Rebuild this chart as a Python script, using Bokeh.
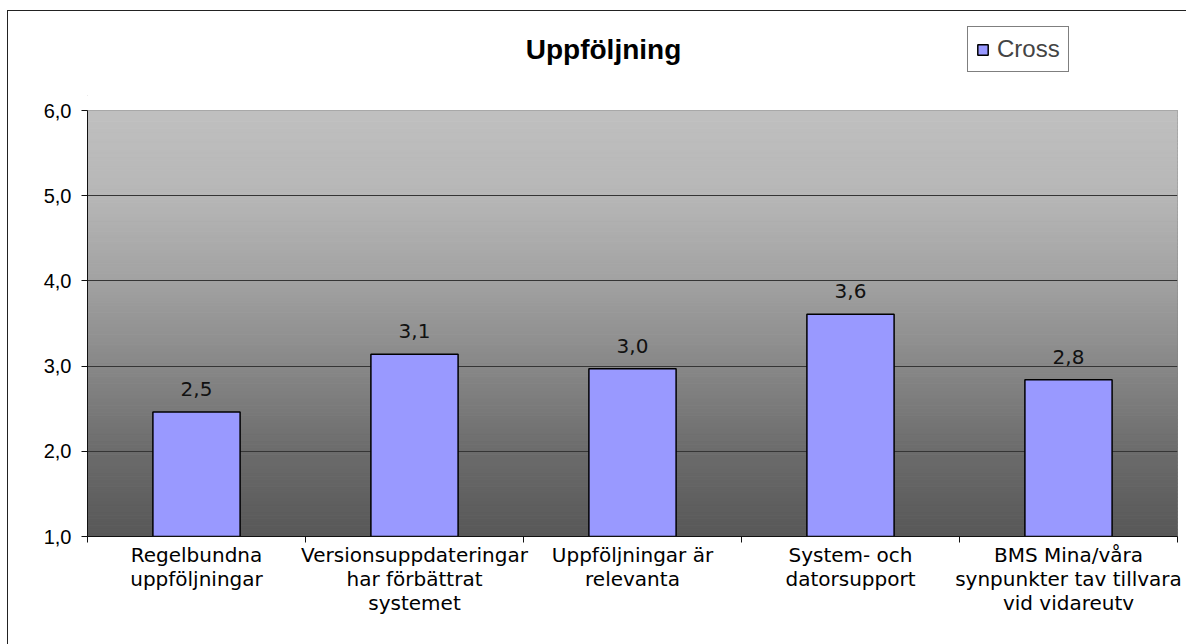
import numpy as np
from bokeh.plotting import figure
from bokeh.layouts import column
from bokeh.models import Range1d, FixedTicker, ColumnDataSource, Legend, LegendItem, Label
from bokeh.core.properties import value
from bokeh.embed import file_html
from bokeh.resources import INLINE

# ---- data ----
categories = [
    "Regelbundna\nuppföljningar",
    "Versionsuppdateringar\nhar förbättrat\nsystemet",
    "Uppföljningar är\nrelevanta",
    "System- och\ndatorsupport",
    "BMS Mina/våra\nsynpunkter tav tillvara\nvid vidareutv",
]
values = [2.46, 3.14, 2.97, 3.61, 2.84]
series_name = "Cross"
title_text = "Uppföljning"
y_ticks = [1.0, 2.0, 3.0, 4.0, 5.0, 6.0]
y_tick_labels = ["1,0", "2,0", "3,0", "4,0", "5,0", "6,0"]
value_labels = [f"{v:.1f}".replace(".", ",") for v in values]

n = len(categories)
xs = [i + 0.5 for i in range(n)]
y_min, y_max = y_ticks[0], y_ticks[-1]

BAR_FILL = "#9999ff"
BAR_LINE = "black"

W, HEAD_H, MAIN_TOP = 1178, 85, 14
MAIN_H = 633 - HEAD_H

# ---------- header: title + legend ----------
head = figure(width=W, height=HEAD_H, x_range=Range1d(0, 1), y_range=Range1d(0, 1),
              x_axis_type=None, y_axis_type=None, toolbar_location=None,
              output_backend="svg", min_border=0, title=None)
head.outline_line_color = None
head.grid.visible = False
head.background_fill_color = "white"
head.border_fill_color = "white"

# positions in screen px from the header frame's bottom-left corner
head.add_layout(Label(x=516, y=47, x_units="screen", y_units="screen", text=title_text,
                      text_align="center", text_baseline="alphabetic",
                      text_font="Liberation Sans", text_font_size="28px",
                      text_font_style="bold", text_color="black"))

swatch_src = ColumnDataSource(dict(x=[-5.0], top=[-5.0]))  # off-screen, only feeds the legend swatch
legend_swatch = head.vbar(x="x", top="top", bottom=-6.0, width=0.1, source=swatch_src,
                          fill_color=BAR_FILL, line_color=BAR_LINE, line_width=1.5)
leg = Legend(items=[LegendItem(label=series_name, renderers=[legend_swatch])])
leg.location = (880, 24)
leg.border_line_color = "black"
leg.border_line_width = 1
leg.background_fill_color = "white"
leg.background_fill_alpha = 1
leg.padding = 8
leg.margin = 0
leg.glyph_width = 13
leg.glyph_height = 13
leg.label_standoff = 8
leg.label_text_font = "Liberation Sans"
leg.label_text_font_size = "24px"
leg.label_height = 24
head.add_layout(leg, "center")

# ---------- main chart ----------
p = figure(width=W, height=MAIN_H, x_range=Range1d(0, n), y_range=Range1d(y_min, y_max),
           toolbar_location=None, output_backend="svg", title=None,
           min_border_left=79, min_border_right=9, min_border_top=MAIN_TOP, min_border_bottom=108)
p.background_fill_color = "white"
p.border_fill_color = "white"
p.outline_line_color = "#808080"
p.outline_line_width = 1

# gradient plot-area background (light top -> dark bottom)
edges = np.linspace(y_min, y_max, 121)
mids = (edges[:-1] + edges[1:]) / 2
grey = np.interp(mids, [1, 2, 3, 4, 5, 6], [88, 108, 136, 162, 183, 192])
cols = ["#%02x%02x%02x" % (int(g), int(g), int(g)) for g in grey]
p.quad(left=0, right=n, bottom=edges[:-1], top=edges[1:], fill_color=cols,
       line_color=cols, line_width=1, level="image")

# grid
p.xgrid.visible = False
p.ygrid.ticker = FixedTicker(ticks=y_ticks[1:-1])
p.ygrid.grid_line_color = "#353535"
p.ygrid.grid_line_width = 1

# bars
p.vbar(x=xs, top=values, bottom=y_min, width=0.4, fill_color=BAR_FILL,
       line_color=BAR_LINE, line_width=1.5)

# value labels
src = ColumnDataSource(dict(x=xs, y=values, t=value_labels))
p.text(x="x", y="y", text="t", source=src, text_align="center", text_baseline="alphabetic",
       y_offset=-23, text_font=value("DejaVu Sans"), text_font_size="20px", text_color="#111")

# y axis
ya = p.yaxis[0]
ya.ticker = FixedTicker(ticks=y_ticks)
ya.major_label_overrides = dict(zip(y_ticks, y_tick_labels))
ya.major_label_text_font = "Liberation Sans"
ya.major_label_text_font_size = "20px"
ya.major_label_text_color = "black"
ya.major_tick_out = 6
ya.major_tick_in = 0
ya.minor_tick_out = 0
ya.minor_tick_in = 0
ya.major_label_standoff = 10
ya.axis_line_color = "#111"
ya.major_tick_line_color = "#111"

# x axis
xa = p.xaxis[0]
xa.ticker = FixedTicker(ticks=xs, minor_ticks=list(range(0, n + 1)))
xa.major_label_overrides = dict(zip(xs, categories))
xa.major_label_text_font = "DejaVu Sans"
xa.major_label_text_font_size = "20px"
xa.major_label_text_line_height = 1.0
xa.major_label_text_color = "black"
xa.major_tick_out = 0
xa.major_tick_in = 0
xa.minor_tick_out = 6
xa.minor_tick_in = 0
xa.minor_tick_line_color = "#111"
xa.axis_line_color = "#111"
xa.major_label_standoff = 0

layout = column(head, p, spacing=0, margin=(10, 0, 0, 7),
                styles={"border-left": "1px solid #222", "border-top": "1px solid #222"})

open("out.html", "w").write(file_html(layout, INLINE))
